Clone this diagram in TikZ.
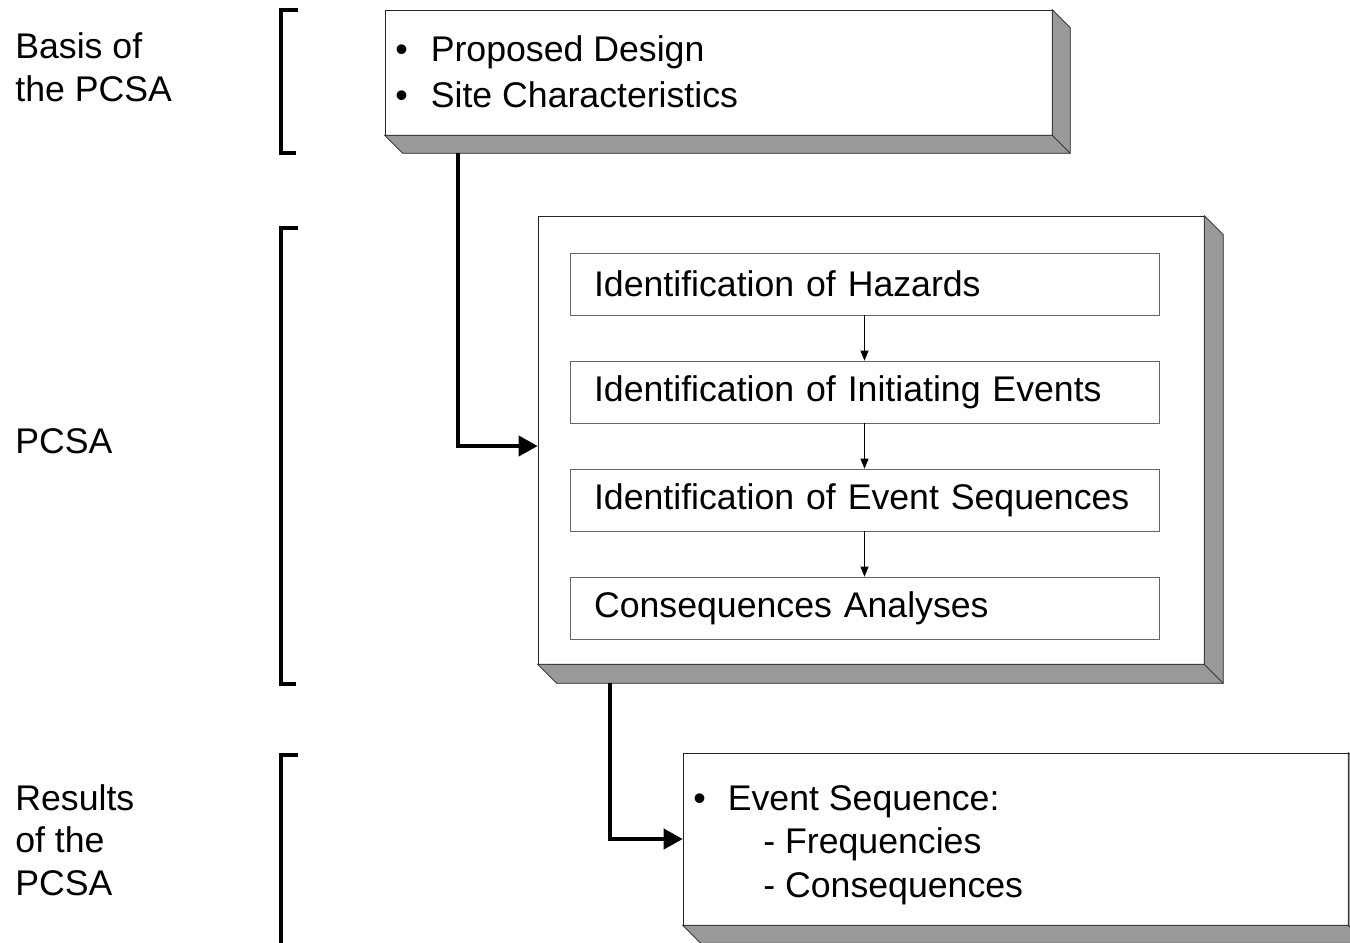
\documentclass[tikz,border=0pt]{standalone}
\usepackage{fontspec}
\setmainfont{Liberation Sans}
\usetikzlibrary{arrows.meta,calc}

\tikzset{
  front/.style={draw=black!85, fill=white, inner sep=0pt},
  slabside/.style={fill=black!40, draw=black!85},
  stagebox/.style={draw=black!60, fill=white, minimum width=11.78cm, minimum height=1.24cm,
    text width=10.82cm, inner xsep=0.48cm, align=left},
  txt/.style={inner sep=0pt, anchor=base west},
  link/.style={line width=2.2pt, -{Triangle[length=0.38cm,width=0.4cm]}},
  flow/.style={line width=0.5pt, -{Triangle[length=0.2cm,width=0.16cm]}},
  bracket/.style={line width=2.2pt},
}
% bevel under and right of a box node: node, depth
\newcommand{\slab}[2]{%
  \filldraw[slabside] (#1.north east) -- ++(#2,#2) -- ($(#1.south east)+(#2,#2)$)
    -- ($(#1.south west)+(#2,#2)$) -- (#1.south west) -- (#1.south east) -- cycle;
  \draw[black!85] (#1.south east) -- ++(#2,#2);}

\begin{document}
\begin{tikzpicture}[x=0.02cm, y=-0.02cm, font=\fontsize{20.3}{24}\selectfont]
  \useasboundingbox (0,0) rectangle (1350,943);

  % Left labels
  \node[txt] (basis1) at (15,58) {Basis of};
  \node[txt] (basis2) at (15,101) {the PCSA};
  \node[txt] (pcsalbl) at (15,453) {PCSA};
  \node[txt] (res1) at (15,810) {Results};
  \node[txt] (res2) at (15,852) {of the};
  \node[txt] (res3) at (15,895) {PCSA};

  % Brackets
  \draw[bracket] (298,10) -| (281,153) -- (296,153);
  \draw[bracket] (298,228) -| (281,684) -- (296,684);
  \draw[bracket] (298,755) -| (281,950);

  % Basis box
  \node[front, minimum width=13.34cm, minimum height=2.5cm] (basis) at (718.5,72.5) {};
  \slab{basis}{18}
  \node[txt] (design) at (395,61) {\textbullet\hspace{0.46cm}Proposed Design};
  \node[txt] (site) at (395,107) {\textbullet\hspace{0.46cm}Site Characteristics};

  % PCSA box
  \node[front, minimum width=13.32cm, minimum height=8.96cm] (pcsa) at (871,440) {};
  \slab{pcsa}{19}
  \node[stagebox] (hazards) at (864.5,284) {Identification of Hazards};
  \node[stagebox] (initev) at (864.5,392) {Identification of Initiating Events};
  \node[stagebox] (evseq) at (864.5,500) {Identification of Event Sequences};
  \node[stagebox] (conseq) at (864.5,608) {Consequences Analyses};
  \draw[flow] (hazards) -- (initev);
  \draw[flow] (initev) -- (evseq);
  \draw[flow] (evseq) -- (conseq);

  % Results box
  \node[front, minimum width=13.3cm, minimum height=3.44cm] (results) at (1015.5,839) {};
  \slab{results}{18}
  \node[txt] (seqres) at (693,810) {\textbullet\hspace{0.44cm}Event Sequence:};
  \node[txt] (freq) at (763,853) {- Frequencies};
  \node[txt] (cons) at (763,897) {- Consequences};

  % Connectors
  \draw[link] ($(basis.south west)+(73,18)$) |- ([yshift=-0.12cm]pcsa.west);
  \draw[link] ($(pcsa.south west)+(72,19)$) |- (results.west);
\end{tikzpicture}
\end{document}
